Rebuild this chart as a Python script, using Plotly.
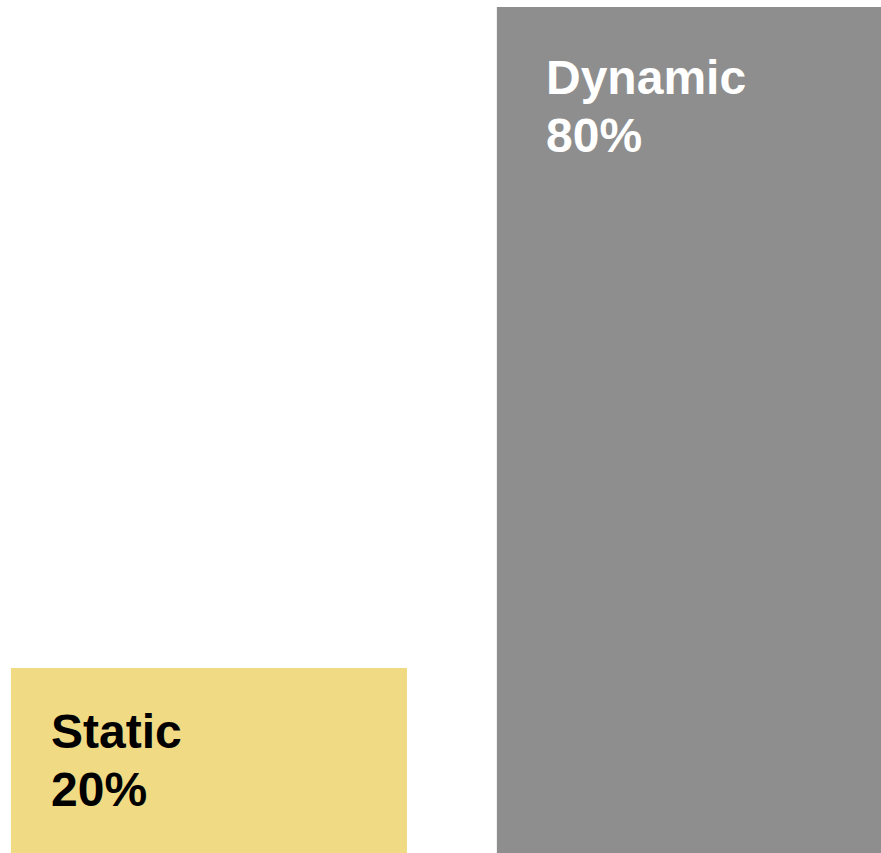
import plotly.graph_objects as go

categories = ["Static", "Dynamic"]
values = [20, 80]
value_labels = ["20%", "80%"]
colors = ["#F0DA84", "#8E8E8E"]
text_colors = ["#000000", "#FFFFFF"]

fig = go.Figure()
fig.add_trace(go.Bar(
    x=list(range(len(categories))),
    y=values,
    marker=dict(color=colors, line=dict(width=0)),
    width=0.815,
    hoverinfo="skip",
))

# label placement per bar (x offset in category units, paper-y of the two lines)
label_x = [-0.329, 0.689]
label_y1 = [0.1419, 0.9086]
label_y2 = [0.075, 0.8406]
font_family = "Arial, Liberation Sans, sans-serif"
for i, cat in enumerate(categories):
    for txt, yy in ((cat, label_y1[i]), (value_labels[i], label_y2[i])):
        fig.add_annotation(
            x=label_x[i], xref="x", xanchor="left",
            y=yy, yref="paper", yanchor="middle",
            text=f"<b>{txt}</b>", showarrow=False,
            font=dict(family=font_family, size=48, color=text_colors[i]),
        )

fig.update_layout(
    width=881, height=853,
    margin=dict(l=0, r=0, t=0, b=0),
    paper_bgcolor="white", plot_bgcolor="white",
    showlegend=False,
    xaxis=dict(range=[-0.43, 1.383], visible=False, fixedrange=True),
    yaxis=dict(range=[3.2, 80.64], visible=False, fixedrange=True),
)

fig.write_html("out.html", config={"displayModeBar": False})
